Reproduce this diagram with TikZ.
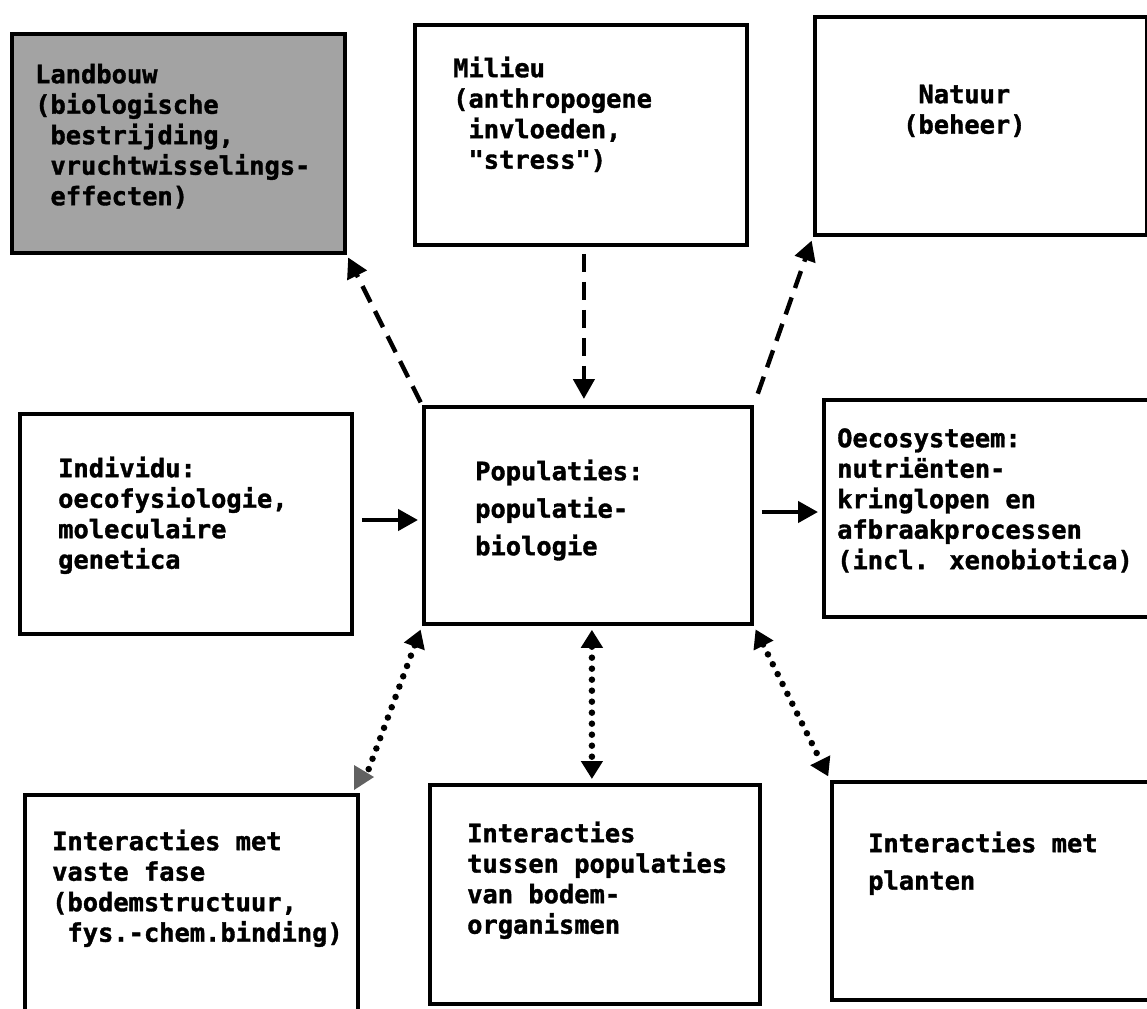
\documentclass[tikz,border=0pt]{standalone}
\usepackage{fontspec}
\usetikzlibrary{arrows.meta,calc}
\newfontfamily\typewriter{DejaVu Sans Mono}[BoldFeatures={FakeBold=1.4}]
% first-line strut: fixes the distance from the node top to the first baseline
\newcommand\firstline{\rule{0pt}{22pt}}
\newcommand\onechar{\hphantom{x}}
\begin{document}
\begin{tikzpicture}[x=1pt,y=-1pt,
  panel/.style={draw=black, line width=3.8pt, fill=white, rectangle, inner sep=0pt, anchor=north west},
  shaded/.style={panel, fill=black!36},
  txt/.style={inner sep=0pt, anchor=north west, align=left,
    font=\typewriter\bfseries\fontsize{25.4}{30.5}\selectfont},
  widetxt/.style={txt, font=\typewriter\bfseries\fontsize{25.4}{37.5}\selectfont},
  flow/.style={line width=4.4pt, -{Triangle[length=20pt,width=21pt]}},
  dashflow/.style={flow, dash pattern=on 18pt off 10pt},
  dotlink/.style={line width=6.5pt, line cap=round, dash pattern=on 0pt off 11pt,
    {Triangle[length=18pt,width=21pt]}-{Triangle[length=18pt,width=21pt]}}
]
\fill[white] (0,0) rectangle (1147,1008);
\useasboundingbox (0,0) rectangle (1147,1008);

% boxes
\node[shaded, minimum width=333pt, minimum height=219pt] (land) at (10,32) {};
\node[panel, minimum width=332pt, minimum height=220pt] (mil) at (413,23) {};
\node[panel, minimum width=332pt, minimum height=218pt] (nat) at (813,15) {};
\node[panel, minimum width=332pt, minimum height=220pt] (ind) at (18,412) {};
\node[panel, minimum width=328pt, minimum height=217pt] (pop) at (422,405) {};
\node[panel, minimum width=332pt, minimum height=217pt] (oec) at (822,398) {};
\node[panel, minimum width=333pt, minimum height=228pt] (vas) at (23,793) {};
\node[panel, minimum width=330pt, minimum height=219pt] (tus) at (428,783) {};
\node[panel, minimum width=325pt, minimum height=218pt] (pla) at (830,780) {};

% texts (anchor y = first baseline - 22)
\node[txt] (landtxt) at (35,61) {\firstline Landbouw\\(biologische\\\onechar bestrijding,\\\onechar vruchtwisselings-\\\onechar effecten)};
\node[txt] (miltxt) at (453,55) {\firstline Milieu\\(anthropogene\\\onechar invloeden,\\\onechar "stress")};
\node[txt] (nattxt) at (903,81) {\firstline \onechar Natuur\\(beheer)};
\node[txt] (indtxt) at (58,455) {\firstline Individu:\\oecofysiologie,\\moleculaire\\genetica};
\node[widetxt] (poptxt) at (475,458) {\firstline Populaties:\\populatie-\\biologie};
\node[txt] (oectxt) at (837,425) {\firstline Oecosysteem:\\nutriënten-\\kringlopen en\\afbraakprocessen\\(incl. xenobiotica)};
\node[txt] (vastxt) at (52,828) {\firstline Interacties met\\vaste fase\\(bodemstructuur,\\\onechar fys.-chem.binding)};
\node[txt] (tustxt) at (467,820) {\firstline Interacties\\tussen populaties\\van bodem-\\organismen};
\node[widetxt] (platxt) at (868,830) {\firstline Interacties met\\planten};

% solid arrows
\draw[flow] ([xshift=8pt]ind.east |- 0,520) -- ([xshift=-4pt]pop.west |- 0,520);
\draw[flow] ([xshift=8pt]pop.east |- 0,512) -- ([xshift=-4pt]oec.west |- 0,512);

% dashed arrows
\draw[dashflow, shorten <=7pt, shorten >=6pt] ([xshift=3pt]mil.south) -- ([xshift=-4pt]pop.north);
\draw[dashflow, shorten <=3pt, shorten >=3pt] (pop.north west) -- (land.south east);
\draw[dashflow, shorten <=12pt, shorten >=4pt] (pop.north east) -- (nat.south west);

% dotted two-way links
\draw[dotlink, shorten <=4pt, shorten >=4pt] ([xshift=4pt]pop.south) -- ([xshift=-3pt]tus.north);
\draw[dotlink, shorten <=4pt, shorten >=4pt] (pop.south east) -- (pla.north west);
\draw[line width=6.5pt, line cap=round, dash pattern=on 0pt off 11pt,
  {Triangle[length=18pt,width=21pt]}-, shorten <=4pt, shorten >=24pt]
  (pop.south west) -- (vas.north east);
\fill[black!62] (354,765) -- (374,777) -- (354,790) -- cycle;
\end{tikzpicture}
\end{document}
